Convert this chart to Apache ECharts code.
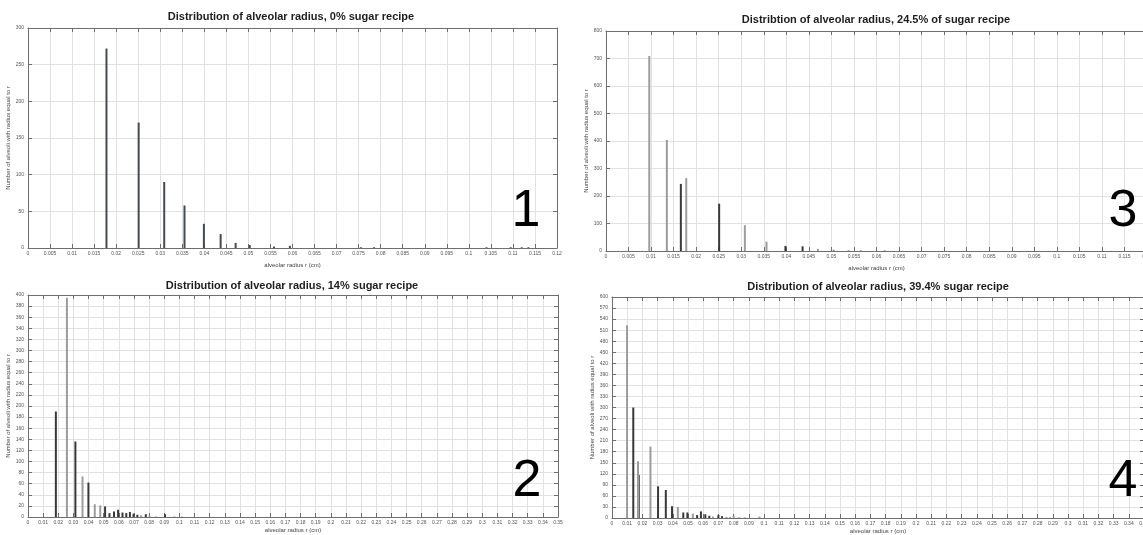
<!DOCTYPE html>
<html><head><meta charset="utf-8">
<script src="https://cdn.jsdelivr.net/npm/echarts@6/dist/echarts.min.js"></script>
<style>html,body{margin:0;padding:0;background:#fff;overflow:hidden}#c{width:1143px;height:535px}</style>
</head><body><div id="c"></div><script>
// Panel 1: 0% sugar
const p1Radius = [0.0178, 0.0251, 0.0309, 0.0355, 0.0399, 0.0437, 0.0471, 0.0503, 0.0558, 0.0594, 0.0755, 0.0785, 0.104, 0.1095, 0.112, 0.1135];
const p1Count  = [272, 171, 90, 58, 33, 19, 7, 4, 2, 3, 1, 1, 1, 1, 1, 1];
// Panel 2: 14% sugar
const p2DarkRadius  = [0.0184, 0.0313, 0.0399, 0.0509, 0.0538, 0.0568, 0.0595, 0.0624, 0.0649, 0.0673, 0.0697, 0.0722, 0.0778, 0.0905];
const p2DarkCount   = [190, 136, 62, 19, 7, 10, 13, 8, 7, 9, 6, 4, 5, 5];
const p2LightRadius = [0.0257, 0.036, 0.0441, 0.0477, 0.0746, 0.0803, 0.0844, 0.0967, 0.1016];
const p2LightCount  = [395, 73, 23, 21, 3, 2, 1, 1, 1];
// Panel 3: 24.5% sugar
const p3DarkRadius  = [0.0166, 0.0251, 0.0398, 0.0436];
const p3DarkCount   = [244, 172, 18, 17];
const p3LightRadius = [0.0096, 0.0135, 0.0178, 0.0308, 0.0356, 0.047, 0.0505, 0.0538, 0.0565, 0.0618];
const p3LightCount  = [709, 404, 265, 94, 34, 8, 5, 3, 3, 3];
// Panel 4: 39.4% sugar
const p4DarkRadius  = [0.0140, 0.0176, 0.0303, 0.0354, 0.0395, 0.0469, 0.0496, 0.0560, 0.0585, 0.0614, 0.0640, 0.0700, 0.0724];
const p4DarkCount   = [300, 117, 86, 76, 32, 15, 15, 8, 18, 10, 6, 8, 5];
const p4LightRadius = [0.0099, 0.0171, 0.0253, 0.0433, 0.0532, 0.0664, 0.0753, 0.0777, 0.0800, 0.0837, 0.0873, 0.0970];
const p4LightCount  = [523, 154, 194, 30, 12, 4, 3, 3, 6, 2, 2, 4];

const titles = [
  'Distribution of alveolar radius, 0% sugar recipe',
  'Distribution of alveolar radius, 14% sugar recipe',
  'Distribtion of alveolar radius, 24.5% of sugar recipe',
  'Distribution of alveolar radius, 39.4% sugar recipe'
];
const panelLabels = ['1', '2', '3', '4'];
const xAxisName = 'alveolar radius r (cm)';
const yAxisName = 'Number of alveoli with radius equal to r';

const FONT = '"Liberation Sans", Arial, Helvetica, sans-serif';
const zip = (a, b) => a.map((v, i) => [v, b[i]]);

const panels = [
  {grid:{left:28, top:28, width:529, height:220}, xMax:0.12, xInt:0.005, yMax:300, yInt:50, nameGap:14,
   title:[291,17], num:[526,212], series:[[p1Radius,p1Count,'#454b53']]},
  {grid:{left:28, top:295, width:530, height:222}, xMax:0.35, xInt:0.01, yMax:400, yInt:20, nameGap:10,
   title:[292,286], num:[527,482], series:[[p2DarkRadius,p2DarkCount,'#383838'],[p2LightRadius,p2LightCount,'#9c9c9c']]},
  {grid:{left:606, top:31, width:541, height:220}, xMax:0.12, xInt:0.005, yMax:800, yInt:100, nameGap:14,
   title:[876,20], num:[1123,212], series:[[p3DarkRadius,p3DarkCount,'#383838'],[p3LightRadius,p3LightCount,'#9c9c9c']]},
  {grid:{left:612, top:297, width:532, height:221}, xMax:0.35, xInt:0.01, yMax:600, yInt:30, nameGap:10,
   title:[878,287], num:[1123,482], series:[[p4DarkRadius,p4DarkCount,'#383838'],[p4LightRadius,p4LightCount,'#9c9c9c']]}
];

const grid = [], xAxis = [], yAxis = [], series = [], graphic = [];
const lineCol = '#6e6e6e';
panels.forEach((p, i) => {
  grid.push(Object.assign({containLabel:false, outerBoundsMode:'none'}, p.grid));
  const common = {min:0, axisLine:{show:true, onZero:false, lineStyle:{color:lineCol, width:1}},
    axisTick:{show:true, inside:true, length:4, lineStyle:{color:lineCol}}};
  xAxis.push(Object.assign({}, common, {gridIndex:i, type:'value', position:'bottom', max:p.xMax, interval:p.xInt,
    name:xAxisName, nameLocation:'middle', nameGap:p.nameGap, nameTextStyle:{fontSize:6, color:'#444', fontFamily:FONT},
    axisLabel:{fontSize:5, color:'#555', margin:3, fontFamily:FONT, showMaxLabel:true, showMinLabel:true},
    splitLine:{show:true, lineStyle:{color:'#e2e2e2', width:1}}}));
  xAxis.push(Object.assign({}, common, {gridIndex:i, type:'value', position:'top', max:p.xMax, interval:p.xInt,
    axisLabel:{show:false}, splitLine:{show:false}}));
  yAxis.push(Object.assign({}, common, {gridIndex:i, type:'value', position:'left', max:p.yMax, interval:p.yInt,
    name:yAxisName, nameLocation:'middle', nameGap:15, nameRotate:90, nameTextStyle:{fontSize:6, color:'#444', fontFamily:FONT},
    axisLabel:{fontSize:5, color:'#555', margin:4, fontFamily:FONT},
    splitLine:{show:true, lineStyle:{color:'#e2e2e2', width:1}}}));
  yAxis.push(Object.assign({}, common, {gridIndex:i, type:'value', position:'right', max:p.yMax, interval:p.yInt,
    axisLabel:{show:false}, splitLine:{show:false}}));
  p.series.forEach(s => {
    series.push({type:'bar', xAxisIndex:2*i, yAxisIndex:2*i, data:zip(s[0], s[1]),
      barWidth:2, barGap:'-100%', itemStyle:{color:s[2]}, silent:true, animation:false});
  });
  graphic.push({type:'text', z:100, x:p.title[0], y:p.title[1],
    style:{text:titles[i], font:'bold 11px ' + FONT, fill:'#1e1e1e', textAlign:'center', textVerticalAlign:'middle'}});
  graphic.push({type:'text', z:100, x:p.num[0], y:p.num[1],
    style:{text:panelLabels[i], font:'52px ' + FONT, fill:'#000', textAlign:'center', textVerticalAlign:'middle'}});
});

const chart = echarts.init(document.getElementById('c'), null, {renderer:'canvas'});
chart.setOption({animation:false, backgroundColor:'#fff', grid, xAxis, yAxis, series, graphic});
</script></body></html>
